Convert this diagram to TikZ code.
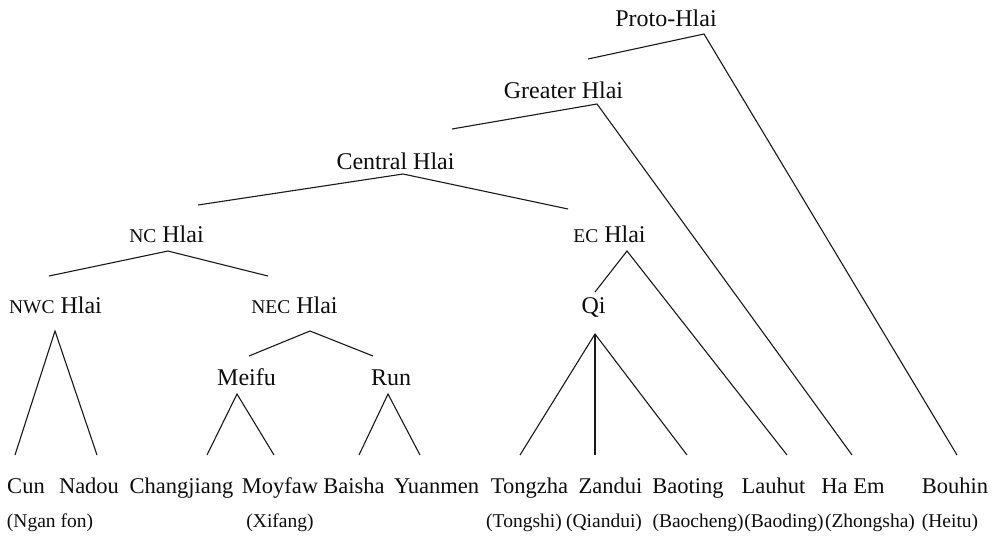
\documentclass[tikz,border=0pt]{standalone}
\usepackage{fontspec}
\setmainfont{Liberation Serif}
\newcommand{\fsc}[1]{{\fontsize{19.5}{19.5}\selectfont #1}}
\begin{document}
\begin{tikzpicture}[x=1pt,y=-1pt,
  lbl/.style={anchor=base,inner sep=0pt,text=black!95,font=\fontsize{24}{26}\selectfont},
  leaf/.style={anchor=base,inner sep=0pt,text=black!95,font=\fontsize{22.5}{24}\selectfont},
  sub/.style={anchor=base,inner sep=0pt,text=black!95,font=\fontsize{19.5}{22}\selectfont},
  br/.style={line width=1.1pt,draw=black!90}]
\useasboundingbox (0,0) rectangle (998,536);
% internal labels
\node[lbl] (proto) at (666,26) {Proto-Hlai};
\node[lbl] (greater) at (563.5,98) {Greater Hlai};
\node[lbl] (central) at (395.5,169) {Central Hlai};
\node[lbl] (nc) at (166.5,242) {\fsc{NC} Hlai};
\node[lbl] (ec) at (609.5,242) {\fsc{EC} Hlai};
\node[lbl] (nwc) at (55.5,313) {\fsc{NWC} Hlai};
\node[lbl] (nec) at (294.5,313) {\fsc{NEC} Hlai};
\node[lbl] (qi) at (593.5,313) {Qi};
\node[lbl] (meifu) at (246.5,385) {Meifu};
\node[lbl] (run) at (391,385) {Run};
% leaves
\node[leaf] (cun) at (26,493) {Cun};
\node[leaf] (nadou) at (89,493) {Nadou};
\node[leaf] (chang) at (181.5,493) {Changjiang};
\node[leaf] (moyfaw) at (280,493) {Moyfaw};
\node[leaf] (baisha) at (354,493) {Baisha};
\node[leaf] (yuan) at (436.5,493) {Yuanmen};
\node[leaf] (tong) at (529.5,493) {Tongzha};
\node[leaf] (zand) at (610.5,493) {Zandui};
\node[leaf] (baot) at (688,493) {Baoting};
\node[leaf] (lauh) at (773.5,493) {Lauhut};
\node[leaf] (haem) at (853,493) {Ha Em};
\node[leaf] (bouh) at (955,493) {Bouhin};
% subtitles
\node[sub] (s1) at (50,527) {(Ngan fon)};
\node[sub] (s2) at (280,527) {(Xifang)};
\node[sub] (s3) at (524,527) {(Tongshi)};
\node[sub] (s4) at (604,527) {(Qiandui)};
\node[sub] (s5) at (698,527) {(Baocheng)};
\node[sub] (s6) at (784,527) {(Baoding)};
\node[sub] (s7) at (870,527) {(Zhongsha)};
\node[sub] (s8) at (950,527) {(Heitu)};
% branch points
\coordinate (pA) at (704,34);
\coordinate (gA) at (597,104);
\coordinate (cA) at (403,174);
\coordinate (ncA) at (168,251);
\coordinate (ecA) at (627,251);
\coordinate (nwcA) at (55,331);
\coordinate (necA) at (310,331);
\coordinate (mA) at (237,394);
\coordinate (rA) at (388,394);
\coordinate (qA) at (595,334);
% branch ends
\coordinate (gT) at (588,59);
\coordinate (cT) at (452,129);
\coordinate (ncT) at (198,205);
\coordinate (ecT) at (568,209);
\coordinate (nwcT) at (49,276);
\coordinate (necT) at (268,276);
\coordinate (qT) at (595,292);
\coordinate (mT) at (249,356);
\coordinate (rT) at (373,356);
\coordinate (cunT) at (15,455);
\coordinate (nadT) at (97,455);
\coordinate (chT) at (207,455);
\coordinate (moT) at (274,455);
\coordinate (baT) at (359,455);
\coordinate (yuT) at (420,455);
\coordinate (toT) at (520,455);
\coordinate (zaT) at (595,455);
\coordinate (boT) at (687,455);
\coordinate (laT) at (787,455);
\coordinate (haT) at (852,455);
\coordinate (bhT) at (957,455);
% branches
\draw[br] (gT) -- (pA) -- (bhT);
\draw[br] (cT) -- (gA) -- (haT);
\draw[br] (ncT) -- (cA) -- (ecT);
\draw[br] (nwcT) -- (ncA) -- (necT);
\draw[br] (qT) -- (ecA) -- (laT);
\draw[br] (cunT) -- (nwcA) -- (nadT);
\draw[br] (mT) -- (necA) -- (rT);
\draw[br] (chT) -- (mA) -- (moT);
\draw[br] (baT) -- (rA) -- (yuT);
\draw[br] (toT) -- (qA) -- (boT);
\draw[br] (qA) -- (zaT);
\end{tikzpicture}
\end{document}
